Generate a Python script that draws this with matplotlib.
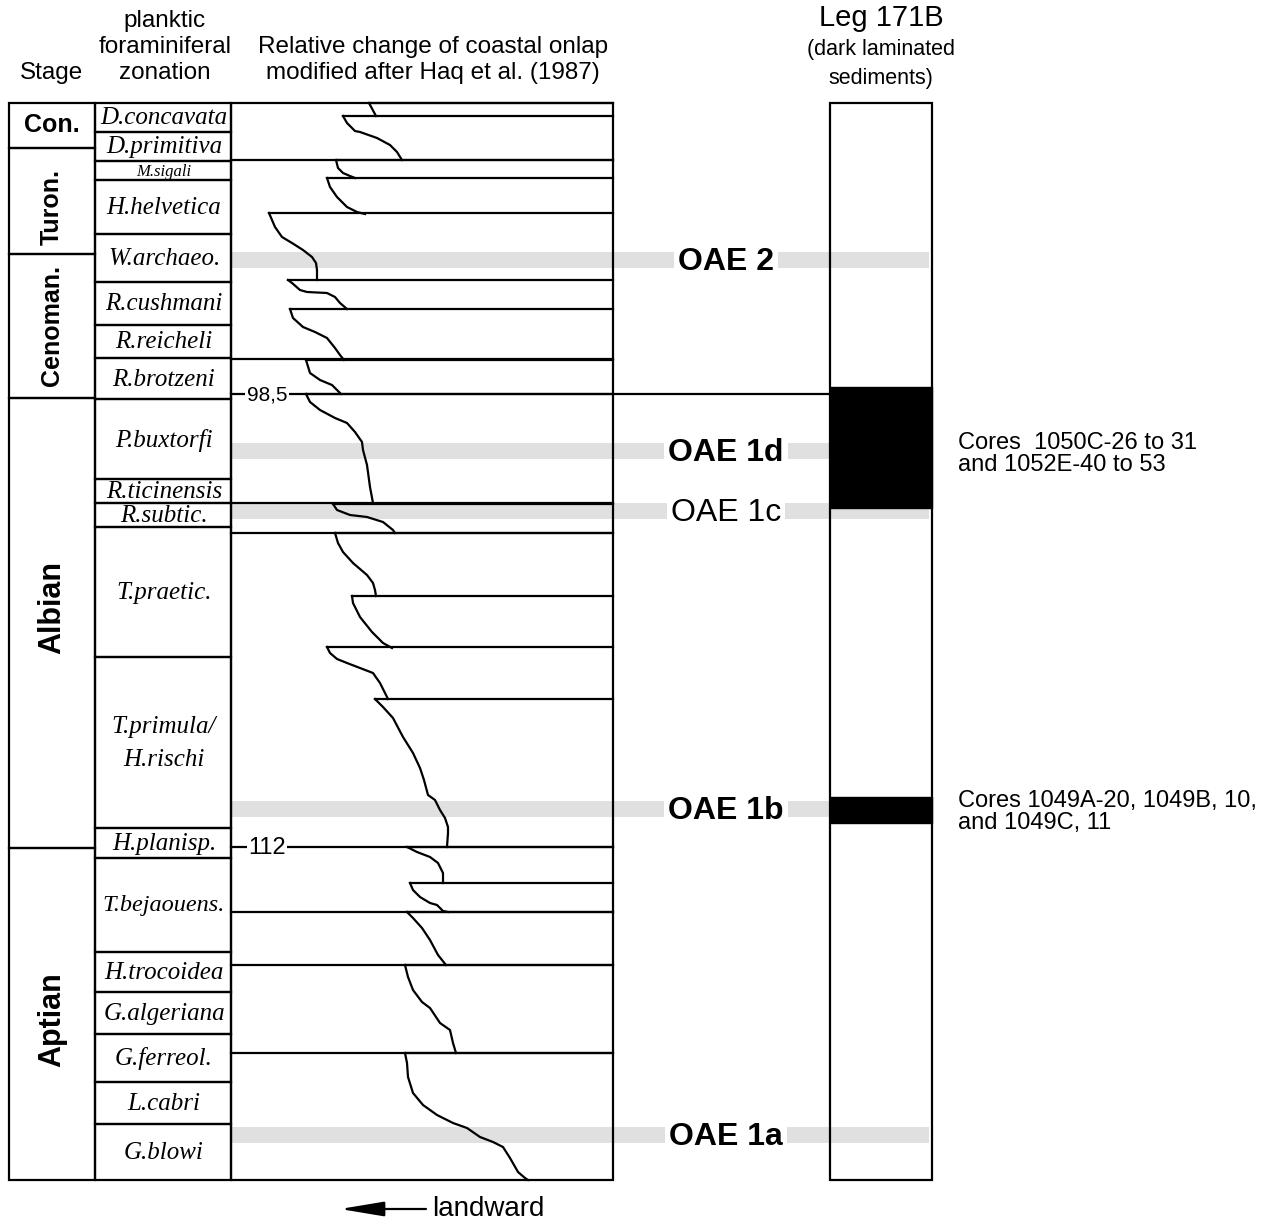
import matplotlib.pyplot as plt
from matplotlib.patches import Rectangle

# ---- data (diagram units = depth/position on the original sheet) ----
stage_names = ["Con.", "Turon.", "Cenoman.", "Albian", "Aptian"]
stage_tops = [103, 148, 254, 398, 848]
stage_bottom = 1180
stage_label_y = [125, 207, 325, 607, 1020]
stage_sizes = [18, 18, 18, 22, 22]

zone_names = ["D.concavata", "D.primitiva", "M.sigali", "H.helvetica", "W.archaeo.",
              "R.cushmani", "R.reicheli", "R.brotzeni", "P.buxtorfi", "R.ticinensis",
              "R.subtic.", "T.praetic.", "T.primula/\nH.rischi", "H.planisp.",
              "T.bejaouens.", "H.trocoidea", "G.algeriana", "G.ferreol.", "L.cabri", "G.blowi"]
zone_tops = [103, 132, 161, 180, 234, 282, 325, 358, 399, 479, 503, 527, 657, 828,
             858, 952, 992, 1034, 1082, 1124]
zone_sizes = [18, 18, 12, 18, 18, 18, 18, 18, 18, 18, 18, 18, 18, 18, 17.5, 18, 18, 18, 18, 18]

# coastal onlap curve, one segment per cycle (x, y)
onlap_x = [
    [369, 376],
    [343, 347, 355, 360, 377, 390, 397, 402],
    [336, 338, 343, 350, 355],
    [327, 330, 337, 347, 357, 365],
    [269, 275, 282, 292, 303, 312, 316, 317, 317],
    [288, 292, 300, 307, 327, 335, 340, 347],
    [290, 293, 303, 315, 327, 335, 340, 344],
    [306, 310, 320, 332, 337, 341],
    [306, 310, 320, 335, 347, 355, 362, 363, 367, 370, 373],
    [333, 337, 350, 367, 383, 393, 395],
    [335, 338, 343, 353, 367, 373, 375, 376],
    [352, 353, 360, 372, 383, 392],
    [327, 330, 337, 347, 360, 373, 380, 388],
    [375, 383, 393, 403, 413, 420, 424, 428, 435, 440, 445, 448, 448, 447],
    [407, 417, 430, 438, 443, 443],
    [410, 413, 420, 430, 437, 443, 448],
    [407, 413, 422, 430, 438, 446],
    [405, 408, 413, 422, 430, 440, 450, 453, 456],
    [405, 407, 408, 413, 423, 437, 453, 467, 480, 493, 503, 510, 518, 525, 528],
]
onlap_y = [
    [103, 116],
    [116, 123, 131, 132, 138, 145, 152, 160],
    [160, 168, 173, 176, 178],
    [178, 187, 197, 207, 212, 214],
    [213, 227, 237, 243, 250, 257, 263, 270, 280],
    [280, 283, 290, 292, 293, 297, 303, 309],
    [309, 318, 327, 332, 338, 348, 355, 360],
    [360, 373, 380, 385, 390, 394],
    [394, 402, 410, 418, 423, 432, 442, 450, 465, 487, 503],
    [504, 510, 515, 517, 522, 530, 533],
    [533, 543, 552, 563, 575, 583, 590, 596],
    [596, 603, 617, 632, 643, 648],
    [647, 653, 659, 663, 668, 673, 683, 699],
    [699, 707, 718, 737, 753, 768, 780, 795, 800, 810, 818, 827, 833, 847],
    [847, 852, 857, 863, 873, 883],
    [883, 890, 897, 903, 905, 911, 912],
    [912, 918, 928, 940, 955, 965],
    [965, 977, 990, 1002, 1008, 1023, 1030, 1043, 1053],
    [1053, 1063, 1077, 1093, 1105, 1115, 1123, 1128, 1137, 1142, 1147, 1158, 1172, 1178, 1180],
]
# sequence boundaries drawn across the whole onlap column
full_boundaries = [160, 359, 503, 533, 912, 965, 1053]
age_labels = ["98,5", "112"]
age_depths = [394, 847]
age_sizes = [15, 17]

oae_names = ["OAE 2", "OAE 1d", "OAE 1c", "OAE 1b", "OAE 1a"]
oae_depths = [260, 451, 511, 809, 1135]
oae_bold = [True, True, False, True, True]

lam_tops = [387, 797]
lam_bottoms = [508, 823]
core_notes = ["Cores  1050C-26 to 31\nand 1052E-40 to 53",
              "Cores 1049A-20, 1049B, 10,\nand 1049C, 11"]
core_note_y = [454, 812]

# ---- layout ----
TOP, BOT = 103, 1180
X0, X1, X2, X3 = 9, 95, 231, 613
LX0, LX1 = 830, 932
LW = 1.6
sans = "Liberation Sans"
serif = "Liberation Serif"

fig = plt.figure(figsize=(12.76, 12.24), dpi=100)
ax = fig.add_axes([0, 0, 1, 1])
ax.set_xlim(0, 1276)
ax.set_ylim(1224, 0)
ax.axis("off")

# grey OAE bands
for y in oae_depths:
    ax.fill_between([X2, 929], y - 8, y + 8, color="#e0e0e0", lw=0, zorder=1)

# stage column
for i, name in enumerate(stage_names):
    top = stage_tops[i]
    bot = stage_tops[i + 1] if i + 1 < len(stage_tops) else stage_bottom
    ax.add_patch(Rectangle((X0, top), X1 - X0, bot - top, fill=False, lw=LW, zorder=3))
    rot = 0 if name == "Con." else 90
    ax.text((X0 + X1) / 2, stage_label_y[i], name, rotation=rot, ha="center", va="center",
            fontsize=stage_sizes[i], fontweight="bold", family=sans)

# zone column
for i, name in enumerate(zone_names):
    top = zone_tops[i]
    bot = zone_tops[i + 1] if i + 1 < len(zone_tops) else BOT
    ax.add_patch(Rectangle((X1, top), X2 - X1, bot - top, fill=False, lw=LW, zorder=3))
    ax.text((X1 + X2) / 2 + 1, (top + bot) / 2 + 1, name, ha="center", va="center",
            fontsize=zone_sizes[i], style="italic", family=serif, linespacing=1.6)

# onlap column frame
ax.add_patch(Rectangle((X2, TOP), X3 - X2, BOT - TOP, fill=False, lw=LW, zorder=3))
for xs, ys in zip(onlap_x, onlap_y):
    ax.plot(xs, ys, color="black", lw=LW, zorder=3)
    ax.plot([xs[0], X3], [ys[0], ys[0]], color="black", lw=LW, zorder=3)
for y in full_boundaries:
    ax.plot([X2, X3], [y, y], color="black", lw=LW, zorder=3)
for lab, y, xe, fs in zip(age_labels, age_depths, [LX0, X3], age_sizes):
    ax.plot([X2, xe], [y, y], color="black", lw=LW, zorder=3)
    ax.text(X2 + 36, y + 1, lab, ha="center", va="center", fontsize=fs, family=sans, zorder=4,
            bbox=dict(facecolor="white", edgecolor="none", pad=1))

# OAE labels
for name, y, b in zip(oae_names, oae_depths, oae_bold):
    ax.text(726, y + 2, name, ha="center", va="center", fontsize=23,
            fontweight="bold" if b else "normal", family=sans, zorder=4,
            bbox=dict(facecolor="white", edgecolor="none", pad=3))

# Leg 171B column
ax.add_patch(Rectangle((LX0, TOP), LX1 - LX0, BOT - TOP, fill=False, lw=LW, zorder=5))
for t, b in zip(lam_tops, lam_bottoms):
    ax.add_patch(Rectangle((LX0, t), LX1 - LX0, b - t, color="black", zorder=4))
for note, yy in zip(core_notes, core_note_y):
    ax.text(958, yy, note, ha="left", va="center", fontsize=17, family=sans,
            linespacing=0.95)

# headers
ax.text(52, 73, "Stage", ha="center", va="center", fontsize=17.5, family=sans)
ax.text(165, 47, "planktic\nforaminiferal\nzonation", ha="center", va="center",
        fontsize=17.5, family=sans, linespacing=1.22)
ax.text(433, 60, "Relative change of coastal onlap\nmodified after Haq et al. (1987)",
        ha="center", va="center", fontsize=17.5, family=sans, linespacing=1.22)
ax.text(881, 18, "Leg 171B", ha="center", va="center", fontsize=21, family=sans)
ax.text(881, 64, "(dark laminated\nsediments)", ha="center", va="center",
        fontsize=15.5, family=sans, linespacing=1.5)

# landward arrow
ax.annotate("", xy=(340, 1209), xytext=(426, 1209),
            arrowprops=dict(arrowstyle="-|>,head_length=1.5,head_width=0.25",
                            mutation_scale=18, color="black", lw=LW, shrinkA=0, shrinkB=0))
ax.text(432, 1209, "landward", ha="left", va="center", fontsize=20, family=sans)

fig.savefig("out.png", dpi=100)
